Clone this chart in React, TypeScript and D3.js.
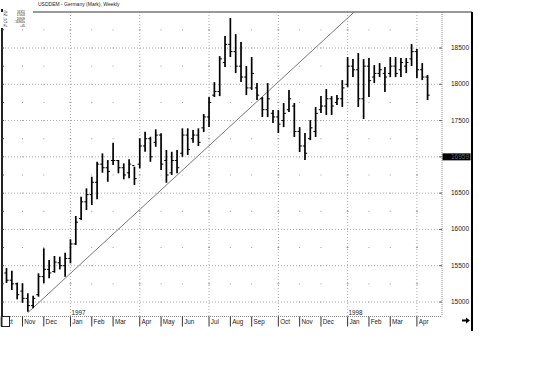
import React from "react";
import * as d3 from "d3";

// ---- data (weekly OHLC, USD/DEM x10000) ----
const highs = [15468,15431,15266,15258,15120,15087,15395,15740,15578,15634,15624,15679,15864,16185,16450,16566,16726,16932,17048,16956,17194,16956,16910,16966,16864,17255,17346,17277,17379,17324,17094,17070,17094,17393,17393,17369,17393,17590,17824,18030,18388,18664,18912,18691,18581,18251,18375,18016,17824,18016,17644,17644,17741,17920,17741,17410,17328,17507,17686,17837,17934,17837,17851,18058,18375,18347,18430,18347,18361,18264,18292,18237,18375,18375,18361,18361,18554,18485,18292,18127];
const lows = [15262,15165,15037,14990,14866,14913,15073,15258,15326,15404,15450,15348,15533,15785,16129,16267,16336,16415,16781,16657,16887,16773,16690,16704,16612,16842,17070,16932,17139,16818,16643,16749,16773,17001,17025,17194,17149,17342,17410,17824,17837,18237,18375,18154,18030,17851,17920,17782,17548,17548,17466,17328,17410,17617,17273,17066,16956,17231,17273,17603,17576,17576,17713,17686,17961,18099,17686,17521,17824,18016,18099,17892,18099,18099,18099,18154,18251,18085,18058,17782];
const opens = [15400,15300,15250,15150,15050,14950,15100,15350,15450,15420,15540,15500,15600,15800,16150,16380,16480,16650,16900,16850,16950,16950,16850,16780,16880,16900,17150,17250,17200,17300,16950,16780,16950,17050,17300,17250,17300,17400,17550,17850,17900,18300,18550,18450,18250,18100,17950,17950,17800,17650,17600,17550,17500,17650,17700,17350,17150,17250,17350,17650,17700,17800,17750,17800,18000,18250,18200,17800,18250,18100,18150,18150,18150,18250,18200,18250,18350,18450,18200,18100];
const closes = [15300,15250,15100,15050,14950,15050,15350,15450,15400,15550,15500,15600,15800,16100,16380,16480,16650,16900,16850,16800,16950,16850,16750,16900,16700,17150,17250,17000,17300,16900,16750,16950,16850,17300,17100,17300,17200,17550,17750,17900,18350,18550,18450,18250,18100,17950,18150,17850,17650,17800,17550,17450,17600,17800,17350,17150,17050,17400,17600,17700,17800,17700,17800,17950,18250,18200,17800,18250,18050,18150,18200,18100,18250,18150,18300,18300,18450,18200,18100,17850];

const priceTicks = [15000, 15500, 16000, 16500, 17000, 17500, 18000, 18500];
const priceTickLabels = ["15000", "15500", "16000", "16500", "", "17500", "18000", "18500"];
const minorLevels = [14750,15250,15750,16250,16750,17250,17750,18250,18750];

const monthLabels = ["Oct","Nov","Dec","Jan","Feb","Mar","Apr","May","Jun","Jul","Aug","Sep","Oct","Nov","Dec","Jan","Feb","Mar","Apr"];
const monthStart = [-1,3,7,12,16,20,25,29,33,38,42,46,51,55,59,64,68,72,77];
const yearLabels = ["1997", "1998"];
const yearStart = [12, 64];

const trendIdx = [4, 66];
const trendPrice = [14853, 19048];

const infoKeys = ["O=", "H=", "L=", "C=", "P="];
const infoVals = ["16311", "17003", "16909", "16963x", "+45"];
const lastPriceLabel = "16959";
const lastPriceLevel = 17000;

const title = "USDDEM - Germany (Mark), Weekly";

export default function App() {
  const W = 546, H = 369;
  const left = 2, right = 442, top = 12, bottom = 316.5;
  const x = d3.scaleLinear().domain([0, 79]).range([6.5, 6.5 + 79 * 5.33]);
  const y = d3.scaleLinear().domain([15000, 18500]).range([302, 48]);
  const font = "Arial, 'Liberation Sans', sans-serif";
  const bars = highs.map((h, i) => ({ i, h, l: lows[i], o: opens[i], c: closes[i] }));
  const quarterIdx = monthStart.filter((_, k) => ["Jan", "Apr", "Jul", "Oct"].includes(monthLabels[k]) && monthStart[k] >= 0);
  const otherIdx = monthStart.filter((_, k) => !["Jan", "Apr", "Jul", "Oct"].includes(monthLabels[k]));
  const trend = d3.line<number>().x((d) => x(d)).y((_, k) => y(trendPrice[k]));
  const dotLevels = [...minorLevels, ...priceTicks].filter((v) => y(v) > top && y(v) < bottom);

  return (
    <svg width={W} height={H} style={{ position: "fixed", left: 0, top: 0, background: "#fff" }} fontFamily={font}>
      <rect width={W} height={H} fill="#fff" />
      <defs>
        <clipPath id="plot">
          <rect x={left} y={top} width={right - left} height={bottom - top} />
        </clipPath>
      </defs>
      {/* horizontal major grid */}
      {priceTicks.map((p) => (
        <line key={"h" + p} x1={left} x2={right} y1={y(p)} y2={y(p)} stroke="#aaa" strokeWidth={1} strokeDasharray="1,2" />
      ))}
      {/* vertical quarter grid */}
      {quarterIdx.map((i) => (
        <line key={"v" + i} x1={x(i)} x2={x(i)} y1={top} y2={bottom} stroke="#aaa" strokeWidth={1} strokeDasharray="1,2" />
      ))}
      {/* minor dots */}
      {otherIdx.filter((i) => x(i) > left + 2).map((i) =>
        dotLevels.map((lv) => (
          <rect key={"d" + i + "_" + lv} x={x(i) - 0.5} y={y(lv) - 0.5} width={1} height={1} fill="#999" />
        ))
      )}
      {quarterIdx.map((i) =>
        minorLevels.filter((v) => y(v) > top && y(v) < bottom).map((lv) => (
          <rect key={"q" + i + "_" + lv} x={x(i) - 1} y={y(lv) - 0.5} width={2} height={1} fill="#999" />
        ))
      )}
      {/* plot borders */}
      <line x1={right} x2={right} y1={top} y2={bottom} stroke="#888" strokeWidth={1} strokeDasharray="1,1" />
      <line x1={left} x2={right} y1={bottom} y2={bottom} stroke="#888" strokeWidth={1} strokeDasharray="1,1" />
      {priceTicks.map((p) => (
        <line key={"rt" + p} x1={right - 3} x2={right} y1={y(p)} y2={y(p)} stroke="#666" strokeWidth={1} />
      ))}
      {/* trendline */}
      <g clipPath="url(#plot)">
        <path d={trend(trendIdx) || ""} fill="none" stroke="#777" strokeWidth={1} />
      </g>
      {/* OHLC bars */}
      <g stroke="#000" strokeWidth={1.7}>
        {bars.map((b) => (
          <g key={"b" + b.i}>
            <line x1={x(b.i)} x2={x(b.i)} y1={y(b.h)} y2={y(b.l)} />
            <line x1={x(b.i) - 2.2} x2={x(b.i)} y1={y(b.o)} y2={y(b.o)} strokeWidth={1} />
            <line x1={x(b.i)} x2={x(b.i) + 2.2} y1={y(b.c)} y2={y(b.c)} strokeWidth={1} />
          </g>
        ))}
      </g>
      {/* top line */}
      <line x1={0} x2={472} y1={top} y2={top} stroke="#777" strokeWidth={1.5} />
      {/* left axis */}
      <line x1={left} x2={left} y1={top} y2={327} stroke="#222" strokeWidth={2} />
      {[...priceTicks, ...minorLevels].filter((v) => y(v) > top && y(v) < bottom).map((p) => (
        <line key={"lt" + p} x1={left} x2={left + 2} y1={y(p)} y2={y(p)} stroke="#444" strokeWidth={1} />
      ))}
      {/* right axis line */}
      <line x1={472} x2={472} y1={top} y2={331} stroke="#000" strokeWidth={2} />
      {/* price labels */}
      {priceTicks.map((p, k) => (
        <text key={"pl" + p} x={469} y={y(p) + 2} textAnchor="end" fontSize={6.5} fill="#222">
          {priceTickLabels[k]}
        </text>
      ))}
      <rect x={442.5} y={y(lastPriceLevel) - 3.5} width={28} height={7} fill="#000" />
      <text x={469} y={y(lastPriceLevel) + 2} textAnchor="end" fontSize={6.5} fill="#666">{lastPriceLabel}</text>
      {/* month ticks and labels */}
      {monthStart.map((i, k) => (
        <g key={"m" + k}>
          <line x1={x(i)} x2={x(i)} y1={bottom} y2={326.5} stroke="#333" strokeWidth={1} />
          <text x={x(i) + 1.8} y={323.5} fontSize={6.3} fill="#222">{monthLabels[k]}</text>
        </g>
      ))}
      <rect x={left} y={316.5} width={7.5} height={10} fill="#fff" stroke="#222" strokeWidth={1} />
      {yearStart.map((i, k) => (
        <text key={"y" + k} x={x(i) + 1} y={315} fontSize={6.3} fill="#222">{yearLabels[k]}</text>
      ))}
      {/* arrow */}
      <path d="M462,319.5 H466 V317.5 L470,320.5 L466,323.5 V321.5 H462 Z" fill="#000" />
      {/* header */}
      <text x={38} y={6} fontSize={5} fill="#222">{title}</text>
      <rect x={0} y={9} width={33} height={19} fill="#fff" />
      {infoKeys.map((kk, k) => (
        <g key={"i" + k}>
          <text x={3.5} y={12.5 + k * 3.5} fontSize={3} fill="#222">{kk}</text>
          <text x={25} y={12.5 + k * 3.5} fontSize={3} fill="#222" textAnchor="end">{infoVals[k]}</text>
        </g>
      ))}
      <line x1={left} x2={left} y1={9} y2={top} stroke="#222" strokeWidth={2} />
    </svg>
  );
}
